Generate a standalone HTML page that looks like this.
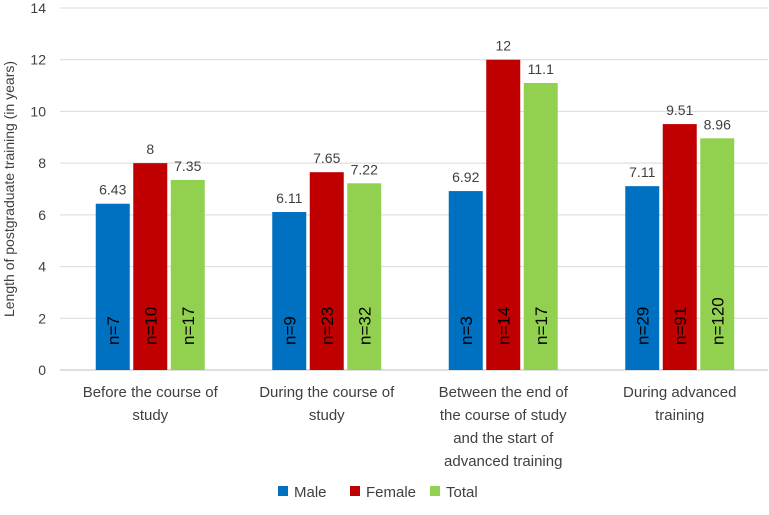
<!DOCTYPE html>
<html><head><meta charset="utf-8"><style>
body{margin:0;background:#fff;}
svg{font-family:"Liberation Sans",Arial,sans-serif;}
</style></head><body>
<svg id="chart" width="769" height="510"></svg>
<script>
const categories=[["Before the course of","study"],["During the course of","study"],["Between the end of","the course of study","and the start of","advanced training"],["During advanced","training"]];
const seriesNames=["Male","Female","Total"];
const maleValues=[6.43,6.11,6.92,7.11];
const femaleValues=[8,7.65,12,9.51];
const totalValues=[7.35,7.22,11.1,8.96];
const maleN=["n=7","n=9","n=3","n=29"];
const femaleN=["n=10","n=23","n=14","n=91"];
const totalN=["n=17","n=32","n=17","n=120"];
const yTicks=[0,2,4,6,8,10,12,14];
const colors=["#0070C0","#C00000","#92D050"];
const NS="http://www.w3.org/2000/svg";
const svg=document.getElementById("chart");
const x0=62,x1=768,yBase=370,yTop=8,yMax=14;
const y=v=>yBase-(yBase-yTop)*v/yMax;
const groupW=(x1-x0)/categories.length;
const barW=34,gap=3.5;
function el(t,a,txt){const e=document.createElementNS(NS,t);for(const k in a)e.setAttribute(k,a[k]);if(txt!==undefined)e.textContent=txt;svg.appendChild(e);return e;}
yTicks.forEach(t=>{
 const g=el("line",{x1:60,x2:x1,y1:y(t),y2:y(t),stroke:t===0?"#bfbfbf":"#d9d9d9","stroke-width":1});
 
 
 const l=el("text",{x:46,y:y(t)+5,"text-anchor":"end","font-size":14,fill:"#404040"},t);
 
 
});
const yt=el("text",{transform:"translate(14,189) rotate(-90)","text-anchor":"middle","font-size":14,fill:"#404040"},"Length of postgraduate training (in years)");


const series=[maleValues,femaleValues,totalValues];
const ns=[maleN,femaleN,totalN];
categories.forEach((c,i)=>{
 const cx=x0+groupW*(i+0.5);
 series.forEach((s,j)=>{
  const bx=cx+(j-1)*(barW+gap)-barW/2;
  const r=el("rect",{x:bx,y:y(s[i]),width:barW,height:yBase-y(s[i]),fill:colors[j]});
  
  
  const v=el("text",{x:bx+barW/2,y:y(s[i])-9,"text-anchor":"middle","font-size":14,fill:"#404040"},s[i]);
  
  
  const n=el("text",{transform:`translate(${bx+barW/2+6},345) rotate(-90)`,"text-anchor":"start","font-size":17,fill:"#000"},ns[j][i]);
  
  
 });
 c.forEach((line,k)=>{
  const t=el("text",{x:cx,y:397+k*23,"text-anchor":"middle","font-size":15,fill:"#404040"},line);
  
  
 });
});
const legX=[278,350,430];
seriesNames.forEach((n,j)=>{
 const s=el("rect",{x:legX[j],y:486,width:10,height:10,fill:colors[j]});
 
 
 const t=el("text",{x:legX[j]+16,y:497,"font-size":15,fill:"#404040"},n);
 
 
});
</script>
</body></html>
